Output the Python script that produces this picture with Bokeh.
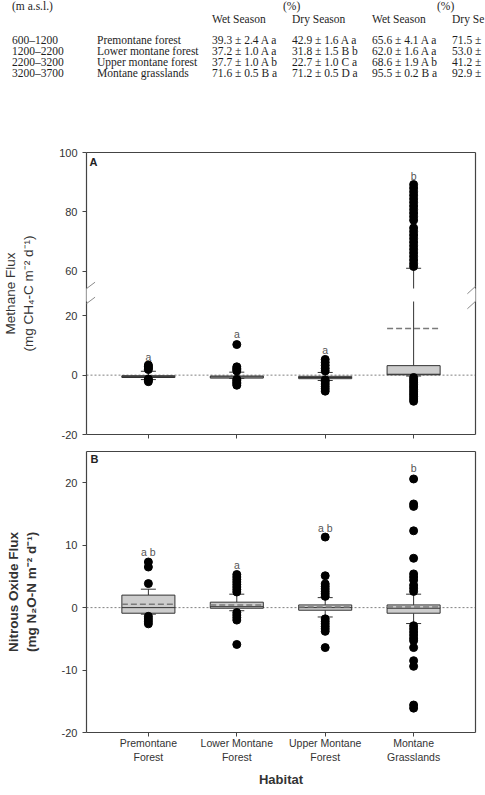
from bokeh.plotting import figure
from bokeh.layouts import column
from bokeh.models import (ColumnDataSource, FixedTicker, Span, Label, PolyAnnotation,
                          Arrow, Range1d, LinearAxis, CustomJSTransform, Div)
from bokeh.transform import transform, dodge
from bokeh.core.properties import value
from bokeh.embed import file_html
from bokeh.resources import INLINE

SANS = "Liberation Sans"
SERIF = "Liberation Serif"

# ---------------- table data ----------------
hdr1 = ["(m a.s.l.)", "(%)", "(%)"]
hdr2 = ["Wet Season", "Dry Season", "Wet Season", "Dry Se"]
elev = ["600–1200", "1200–2200", "2200–3200", "3200–3700"]
habitat_tbl = ["Premontane forest", "Lower montane forest", "Upper montane forest", "Montane grasslands"]
wfps_wet = ["39.3 ± 2.4 A a", "37.2 ± 1.0 A a", "37.7 ± 1.0 A b", "71.6 ± 0.5 B a"]
wfps_dry = ["42.9 ± 1.6 A a", "31.8 ± 1.5 B b", "22.7 ± 1.0 C a", "71.2 ± 0.5 D a"]
moist_wet = ["65.6 ± 4.1 A a", "62.0 ± 1.6 A a", "68.6 ± 1.9 A b", "95.5 ± 0.2 B a"]
moist_dry = ["71.5 ±", "53.0 ±", "41.2 ±", "92.9 ±"]

# ---------------- box plot data ----------------
cats = [1, 2, 3, 4]
habitat_labels = ["Premontane\nForest", "Lower Montane\nForest", "Upper Montane\nForest", "Montane\nGrasslands"]

# Methane (mg CH4-C m-2 d-1)
ch4_q1 = [-0.8, -1.0, -1.2, 0.1]
ch4_med = [-0.5, -0.6, -0.8, 0.3]
ch4_q3 = [-0.2, -0.3, -0.4, 3.2]
ch4_lo = [-1.5, -1.1, -1.8, -0.3]
ch4_hi = [1.3, 1.0, 0.9, 61.0]
ch4_mean = [-0.4, -0.5, -0.7, 15.7]
ch4_out = [
    [3.4, 2.9, 2.4, 1.9, -1.3, -1.7, -2.2],
    [10.3, 2.8, 2.3, 1.8, 1.4, -1.4, -1.9, -2.4, -2.9, -3.4],
    [5.3, 4.3, 3.3, 2.3, 1.4, -1.6, -2.2, -3.0, -3.8, -4.6, -5.4],
    [89.2, 88.0, 86.8, 85.6, 84.4, 83.2, 82.0, 80.8, 79.6, 78.4, 77.2,
     74.6, 73.4, 72.2, 71.0, 69.8, 68.6, 67.4, 66.2, 65.0, 63.8, 62.6, 61.6,
     -0.8, -1.6, -2.4, -3.2, -4.0, -4.8, -5.6, -6.4, -7.2, -8.0, -8.8],
]
ch4_letters = ["a", "a", "a", "b"]
ch4_letter_y = [6.0, 13.8, 8.6, 92.0]

# Nitrous oxide (mg N2O-N m-2 d-1)
n2o_q1 = [-0.9, -0.1, -0.42, -0.9]
n2o_med = [0.0, 0.15, 0.0, -0.1]
n2o_q3 = [2.0, 0.87, 0.43, 0.43]
n2o_lo = [-1.05, -0.5, -1.5, -2.55]
n2o_hi = [2.95, 2.15, 1.6, 2.15]
n2o_mean = [0.55, 0.43, 0.1, 0.1]
n2o_out = [
    [7.3, 6.5, 3.85, -1.4, -1.8, -2.2, -2.6],
    [5.3, 4.9, 4.5, 4.1, 3.7, 3.3, 2.9, 2.5, -0.8, -1.2, -1.6, -2.0, -5.9],
    [11.3, 5.1, 3.8, 3.4, 3.0, 2.6, 2.2, 1.8, -1.8, -2.2, -2.6, -3.0, -3.4, -3.8, -6.4],
    [20.6, 16.6, 16.2, 12.3, 7.9, 5.4, 4.9, 4.4, 3.6, 3.1, 2.6,
     -2.9, -3.4, -3.9, -4.4, -4.9, -5.3, -6.4, -8.5, -9.4, -15.6, -16.1],
]
n2o_letters = ["a b", "a", "a b", "b"]
n2o_letter_y = [8.9, 6.8, 12.8, 22.3]

# ---------------- table (header block, rule, body block) ----------------
RULE_Y = 31
RULE_H = 1
col_x = [12, 97, 212, 292, 372, 452]
row_y = [40.5, 51.5, 62.5, 73.5]
head_cells = []
for xx, s in zip([12, 283, 437], hdr1):
    head_cells.append((xx, 6.5, s))
for xx, s in zip(col_x[2:], hdr2):
    head_cells.append((xx, 19.5, s))
body_cells = []
for i in range(4):
    for xx, s in zip(col_x, [elev[i], habitat_tbl[i], wfps_wet[i], wfps_dry[i], moist_wet[i], moist_dry[i]]):
        body_cells.append((xx, row_y[i] - RULE_Y - RULE_H, s))

SPAN = '<span style="position:absolute;left:%gpx;top:%gpx;white-space:nowrap;">%s</span>'
WRAP = ('<div style="position:relative;width:485px;height:%dpx;overflow:hidden;'
        'font-family:\'Liberation Serif\',serif;font-size:11.5px;line-height:13px;color:#1e1e1e;">')


def block(cells, h):
    parts = [WRAP % h]
    for xx, yy, s in cells:
        parts.append(SPAN % (xx, yy - 6.5, s))
    parts.append('</div>')
    return "".join(parts)


BODY_H = 140 - RULE_Y - RULE_H
head = Div(text=block(head_cells, RULE_Y), width=485, height=RULE_Y, margin=0)
rule = figure(width=485, height=RULE_H, toolbar_location=None, output_backend="svg",
              x_axis_type=None, y_axis_type=None, min_border=0, min_border_left=0,
              min_border_right=0, min_border_top=0, min_border_bottom=0,
              outline_line_color=None, background_fill_color="#333333",
              border_fill_color="#333333", x_range=Range1d(0, 1), y_range=Range1d(0, 1))
rule.grid.visible = False
body = Div(text=block(body_cells, BODY_H), width=485, height=BODY_H, margin=0)

# ---------------- helpers ----------------
brk = CustomJSTransform(
    func="return x > 40 ? x - 25 : x;",
    v_func="const out = new Array(xs.length); for (let i = 0; i < xs.length; i++) { out[i] = xs[i] > 40 ? xs[i] - 25 : xs[i]; } return out;")


def style_axis(ax):
    ax.axis_line_color = "#444444"
    ax.axis_line_width = 1.2
    ax.major_tick_line_color = "#444444"
    ax.major_tick_out = 4
    ax.major_tick_in = 0
    ax.minor_tick_line_color = None
    ax.major_label_text_font = SANS
    ax.major_label_text_font_size = "11px"
    ax.major_label_text_color = "#333333"
    ax.major_label_standoff = 5
    ax.axis_label_text_font = SANS
    ax.axis_label_text_font_size = "13.5px"
    ax.axis_label_text_color = "#333333"


def add_frame(p):
    for side in ("right", "above"):
        ax = LinearAxis(ticker=FixedTicker(ticks=[]),
                        major_tick_line_color=None, minor_tick_line_color=None,
                        axis_line_color="#444444", axis_line_width=1.2, major_label_standoff=0)
        p.add_layout(ax, side)


def draw_panel(p, q1, med, q3, lo, hi, mean, outs, letters, letter_y, tr, mean_under):
    def Y(f):
        return transform(f, tr) if tr is not None else f
    box = ColumnDataSource(dict(x=cats, q1=q1, med=med, q3=q3, lo=lo, hi=hi, mean=mean))
    ox, oy = [], []
    for c, vals in zip(cats, outs):
        for v in vals:
            ox.append(c); oy.append(v)
    out = ColumnDataSource(dict(x=ox, y=oy))
    lab = ColumnDataSource(dict(x=cats, ly=letter_y, lt=letters))

    p.add_layout(Span(location=0, dimension="width", line_color="#808080",
                      line_dash="2 2", line_width=1, level="underlay"))

    def draw_mean():
        p.segment(x0=dodge("x", -0.3), x1=dodge("x", 0.3), y0=Y("mean"), y1=Y("mean"),
                  source=box, line_color="#7a7a7a", line_dash="6 3", line_width=1.4)
    if mean_under:
        draw_mean()
    p.segment(x0="x", x1="x", y0=Y("q3"), y1=Y("hi"), source=box, line_color="#333333", line_width=1)
    p.segment(x0="x", x1="x", y0=Y("lo"), y1=Y("q1"), source=box, line_color="#333333", line_width=1)
    p.segment(x0=dodge("x", -0.085), x1=dodge("x", 0.085), y0=Y("hi"), y1=Y("hi"),
              source=box, line_color="#333333", line_width=1)
    p.segment(x0=dodge("x", -0.085), x1=dodge("x", 0.085), y0=Y("lo"), y1=Y("lo"),
              source=box, line_color="#333333", line_width=1)
    p.vbar(x="x", width=0.6, bottom=Y("q1"), top=Y("q3"), source=box,
           fill_color="#cdcdcd", line_color="#333333", line_width=1)
    p.segment(x0=dodge("x", -0.3), x1=dodge("x", 0.3), y0=Y("med"), y1=Y("med"),
              source=box, line_color="#333333", line_width=1)
    if not mean_under:
        draw_mean()
    p.scatter(x="x", y=Y("y"), source=out, size=8, fill_color="black", line_color="black")
    p.text(x="x", y=Y("ly"), text="lt", source=lab, text_align="center", text_baseline="middle",
           text_font=value(SANS), text_font_size="10.5px", text_color="#555555")


# ---------------- panel A (methane, broken axis) ----------------
pA = figure(width=485, height=303, x_range=Range1d(0.3, 4.7), y_range=Range1d(-20, 75),
            toolbar_location=None, output_backend="svg", min_border_left=82, min_border_right=10,
            min_border_top=12, min_border_bottom=9, outline_line_color=None)
pA.grid.visible = False
for ax in pA.xaxis + pA.yaxis:
    style_axis(ax)
pA.xaxis.ticker = FixedTicker(ticks=cats)
pA.xaxis.major_label_overrides = {c: "" for c in cats}
pA.xaxis.major_label_text_font_size = "1px"
pA.xaxis.major_label_standoff = 0
pA.yaxis.ticker = FixedTicker(ticks=[-20, 0, 20, 35, 55, 75])
pA.yaxis.major_label_overrides = {-20: "-20", 0: "0", 20: "20", 35: "60", 55: "80", 75: "100"}
pA.yaxis.axis_label = "Methane Flux\n(mg CH\u2084-C m\u207b\u00b2 d\u207b\u00b9)"
pA.yaxis.axis_label_standoff = 20
pA.yaxis.axis_label_text_font_style = "normal"
add_frame(pA)
draw_panel(pA, ch4_q1, ch4_med, ch4_q3, ch4_lo, ch4_hi, ch4_mean, ch4_out,
           ch4_letters, ch4_letter_y, brk, True)

# axis break: white gap and slashes on both vertical axes
pA.add_layout(PolyAnnotation(xs=[0.22, 4.79, 4.79, 0.22], ys=[24.8, 24.8, 29.2, 29.2],
                             fill_color="white", fill_alpha=1, line_alpha=0))
for (xs0, ys0, xs1, ys1) in [(0.222, 27.41, 0.397, 31.31), (0.222, 22.35, 0.397, 26.26),
                             (4.608, 27.41, 4.794, 32.46), (4.608, 22.35, 4.794, 27.41)]:
    pA.add_layout(Arrow(end=None, start=None, x_start=xs0, y_start=ys0, x_end=xs1, y_end=ys1,
                        line_color="#8a8a8a", line_width=1))
pA.add_layout(Label(x=0.335, y=71.7, text="A", text_font=SANS, text_font_style="bold",
                    text_font_size="11px", text_baseline="middle", text_color="#222222"))

# ---------------- panel B (nitrous oxide) ----------------
pB = figure(width=485, height=352, x_range=Range1d(0.3, 4.7), y_range=Range1d(-20, 25),
            toolbar_location=None, output_backend="svg", min_border_left=82, min_border_right=10,
            min_border_top=8, min_border_bottom=63, outline_line_color=None)
pB.grid.visible = False
for ax in pB.xaxis + pB.yaxis:
    style_axis(ax)
pB.xaxis.ticker = FixedTicker(ticks=cats)
pB.xaxis.major_label_overrides = {c: lbl for c, lbl in zip(cats, habitat_labels)}
pB.xaxis.major_label_text_font_size = "10.5px"
pB.xaxis.major_label_standoff = 0
pB.xaxis.axis_label = "Habitat"
pB.xaxis.axis_label_text_font_style = "bold"
pB.xaxis.axis_label_text_font_size = "13px"
pB.xaxis.axis_label_standoff = 6
pB.yaxis.ticker = FixedTicker(ticks=[-20, -10, 0, 10, 20])
pB.yaxis.major_label_overrides = {-20: "-20", -10: "-10", 0: "0", 10: "10", 20: "20"}
pB.yaxis.axis_label = "Nitrous Oxide Flux\n(mg N\u2082O-N m\u207b\u00b2 d\u207b\u00b9)"
pB.yaxis.axis_label_standoff = 20
pB.yaxis.axis_label_text_font_style = "bold"
add_frame(pB)
draw_panel(pB, n2o_q1, n2o_med, n2o_q3, n2o_lo, n2o_hi, n2o_mean, n2o_out,
           n2o_letters, n2o_letter_y, None, False)
pB.add_layout(Label(x=0.345, y=23.8, text="B", text_font=SANS, text_font_style="bold",
                    text_font_size="11px", text_baseline="middle", text_color="#222222"))

layout = column(head, rule, body, pA, pB, spacing=0)
open("out.html", "w").write(file_html(layout, INLINE))
